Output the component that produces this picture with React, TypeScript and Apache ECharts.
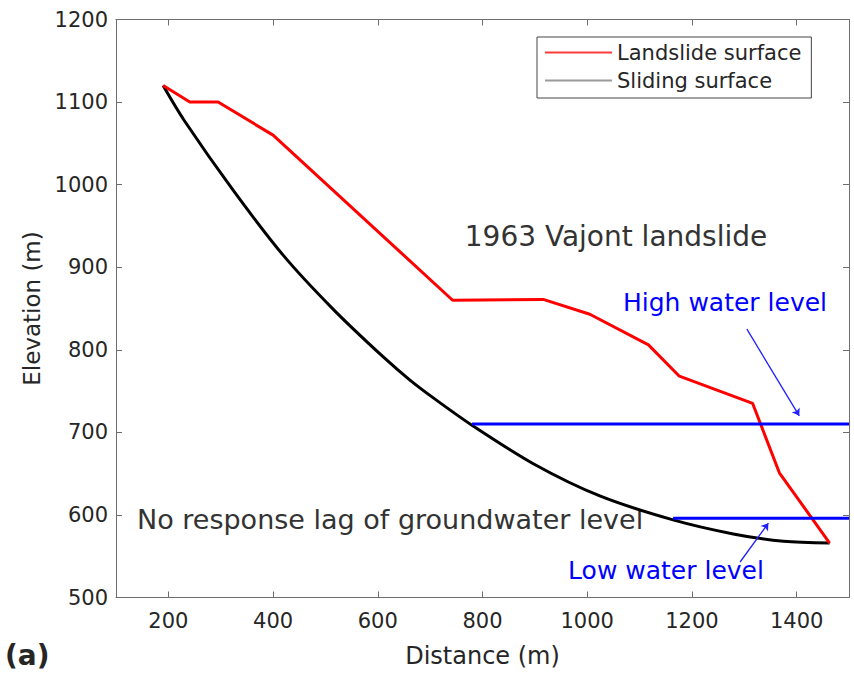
import React, { useEffect, useRef } from "react";
import * as echarts from "echarts";

// Landslide surface profile (distance m, elevation m)
const landslideSurface: number[][] = [
  [190, 1120], [241, 1100], [295, 1100], [400, 1060], [743, 860], [916, 861],
  [1005, 843], [1117, 806], [1176, 768], [1316, 735], [1367, 651], [1463, 566],
];
// Sliding surface profile (distance m, elevation m)
const slidingSurface: number[][] = [
  [190, 1120], [230, 1078], [324, 993], [420, 914], [515, 849], [611, 791],
  [662, 763], [712, 739], [779, 709], [897, 662], [1024, 623], [1164, 594],
  [1279, 577], [1375, 568], [1463, 566],
];
// Water levels
const highWaterLevel: number[][] = [[780, 710], [1500, 710]];
const lowWaterLevel: number[][] = [[1164, 596], [1500, 596]];
// Annotation arrows (start, end) in data units
const highArrow: number[][] = [[1305, 825], [1405, 720]];
const lowArrow: number[][] = [[1292, 543], [1346, 590]];

const xTicks = [200, 400, 600, 800, 1000, 1200, 1400];
const FONT = "DejaVu Sans";
const plain = (v: number) => String(v);

export default function App() {
  const ref = useRef<HTMLDivElement>(null);
  useEffect(() => {
    if (!ref.current) return;
    const chart = echarts.init(ref.current, undefined, { renderer: "svg" });
    const axisLineStyle = { color: "#6e6e6e", width: 1 };
    const option: any = {
      animation: false,
      backgroundColor: "#fff",
      grid: { left: 116, right: 5, top: 19.5, bottom: 80.5, containLabel: false },
      legend: {
        orient: "vertical",
        left: 537,
        top: 37,
        width: 276,
        padding: [5, 10, 7, 7],
        borderColor: "#444",
        borderWidth: 1,
        itemWidth: 67,
        itemHeight: 14,
        itemGap: 7,
        textStyle: { fontFamily: FONT, fontSize: 21, color: "#262626", padding: [0, 0, 0, 0] },
        data: [
          {
            name: "Landslide surface",
            itemStyle: { color: "transparent", borderWidth: 0, opacity: 0 },
            lineStyle: { color: "#ff3b3b", width: 2 },
          },
          {
            name: "Sliding surface",
            itemStyle: { color: "transparent", borderWidth: 0, opacity: 0 },
            lineStyle: { color: "#9a9a9a", width: 2 },
          },
        ],
      },
      xAxis: [
        {
          type: "value",
          min: 100,
          max: 1500,
          position: "bottom",
          name: "Distance (m)",
          nameLocation: "middle",
          nameGap: 46,
          nameTextStyle: { fontFamily: FONT, fontSize: 24, color: "#262626" },
          axisLine: { show: true, onZero: false, lineStyle: axisLineStyle },
          axisTick: { show: true, inside: true, length: 6, customValues: xTicks, lineStyle: axisLineStyle },
          axisLabel: { customValues: xTicks, formatter: plain, fontFamily: FONT, fontSize: 21, color: "#262626", margin: 13 },
          splitLine: { show: false },
        },
        {
          type: "value",
          min: 100,
          max: 1500,
          position: "top",
          axisLine: { show: true, onZero: false, lineStyle: axisLineStyle },
          axisTick: { show: true, inside: true, length: 6, customValues: xTicks, lineStyle: axisLineStyle },
          axisLabel: { show: false },
          splitLine: { show: false },
        },
      ],
      yAxis: [
        {
          type: "value",
          min: 500,
          max: 1200,
          interval: 100,
          position: "left",
          name: "Elevation (m)",
          nameLocation: "middle",
          nameGap: 70,
          nameTextStyle: { fontFamily: FONT, fontSize: 23, color: "#262626" },
          axisLine: { show: true, onZero: false, lineStyle: axisLineStyle },
          axisTick: { show: true, inside: true, length: 6, lineStyle: axisLineStyle },
          axisLabel: { formatter: plain, fontFamily: FONT, fontSize: 21, color: "#262626", margin: 8 },
          splitLine: { show: false },
        },
        {
          type: "value",
          min: 500,
          max: 1200,
          interval: 100,
          position: "right",
          axisLine: { show: true, onZero: false, lineStyle: axisLineStyle },
          axisTick: { show: true, inside: true, length: 6, lineStyle: axisLineStyle },
          axisLabel: { show: false },
          splitLine: { show: false },
        },
      ],
      series: [
        {
          name: "Sliding surface",
          type: "line",
          data: slidingSurface,
          smooth: 0.3,
          symbol: "none",
          itemStyle: { color: "#000" },
          lineStyle: { color: "#000", width: 3 },
          z: 3,
        },
        {
          name: "Landslide surface",
          type: "line",
          data: landslideSurface,
          symbol: "none",
          itemStyle: { color: "#ff0000" },
          lineStyle: { color: "#ff0000", width: 3 },
          z: 4,
        },
        {
          name: "High water level",
          type: "line",
          data: highWaterLevel,
          symbol: "none",
          itemStyle: { color: "#0000ff" },
          lineStyle: { color: "#0000ff", width: 3 },
          z: 5,
          markLine: {
            silent: true,
            symbol: ["none", "arrow"],
            symbolSize: 7,
            label: { show: false },
            lineStyle: { color: "#1f1fff", width: 1.3, type: "solid" },
            data: [[{ coord: highArrow[0] }, { coord: highArrow[1] }]],
          },
        },
        {
          name: "Low water level",
          type: "line",
          data: lowWaterLevel,
          symbol: "none",
          itemStyle: { color: "#0000ff" },
          lineStyle: { color: "#0000ff", width: 3 },
          z: 5,
          markLine: {
            silent: true,
            symbol: ["none", "arrow"],
            symbolSize: 7,
            label: { show: false },
            lineStyle: { color: "#1f1fff", width: 1.3, type: "solid" },
            data: [[{ coord: lowArrow[0] }, { coord: lowArrow[1] }]],
          },
        },
      ],
      graphic: [
        {
          type: "text",
          x: 616,
          y: 236,
          style: { text: "1963 Vajont landslide", fontFamily: FONT, fontSize: 28, fill: "#333", align: "center", verticalAlign: "middle" },
        },
        {
          type: "text",
          x: 725,
          y: 302,
          style: { text: "High water level", fontFamily: FONT, fontSize: 25, fill: "#0000ff", align: "center", verticalAlign: "middle" },
        },
        {
          type: "text",
          x: 666,
          y: 570,
          style: { text: "Low water level", fontFamily: FONT, fontSize: 25, fill: "#0000ff", align: "center", verticalAlign: "middle" },
        },
        {
          type: "text",
          x: 137,
          y: 519,
          style: { text: "No response lag of groundwater level", fontFamily: FONT, fontSize: 27, fill: "#333", align: "left", verticalAlign: "middle" },
        },
        {
          type: "text",
          x: 5,
          y: 655,
          style: { text: "(a)", fontFamily: FONT, fontSize: 28, fontWeight: "bold", fill: "#262626", align: "left", verticalAlign: "middle" },
        },
      ],
    };
    chart.setOption(option);
    return () => chart.dispose();
  }, []);
  return (
    <div
      ref={ref}
      style={{ position: "fixed", left: 0, top: 0, width: 854, height: 678, background: "#fff" }}
    />
  );
}
